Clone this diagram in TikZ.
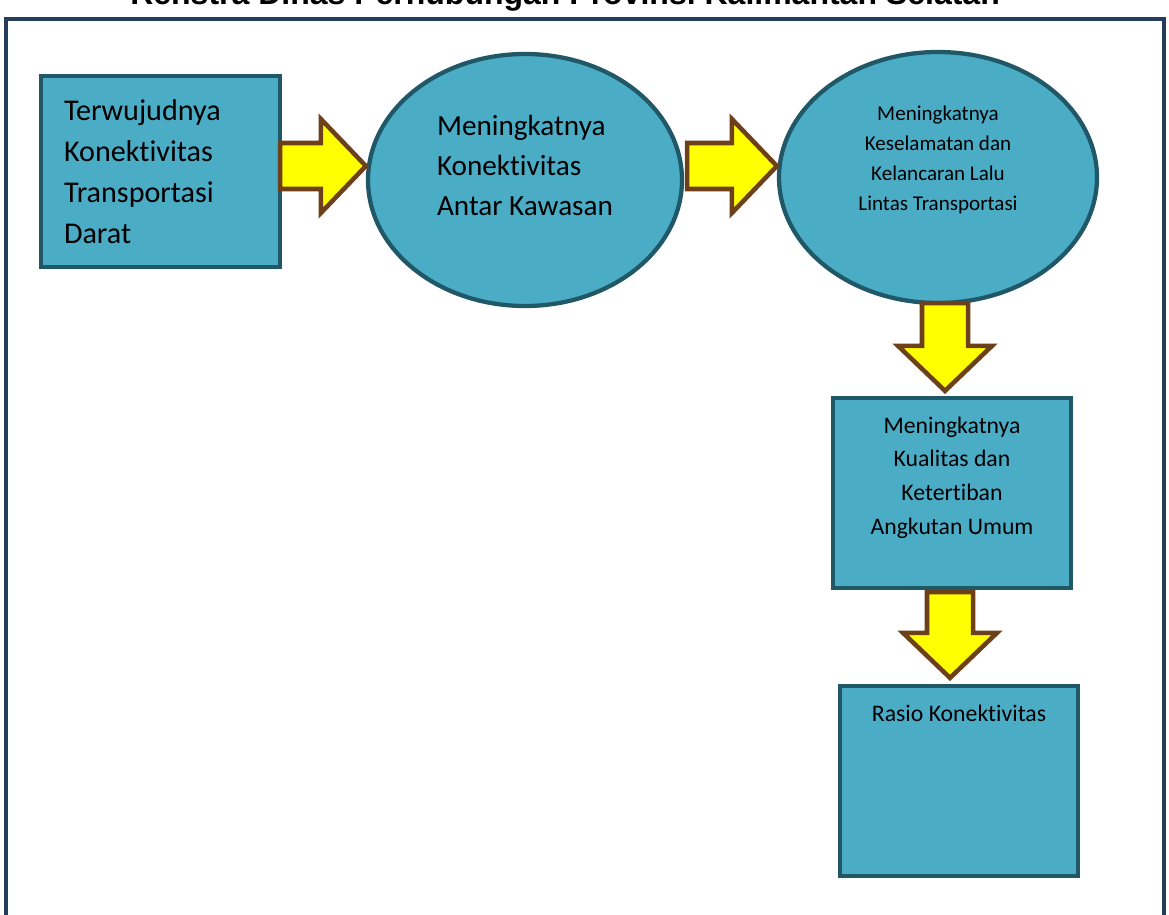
\documentclass[tikz,border=0pt]{standalone}
\usepackage{fontspec}
\setmainfont{Carlito}[Ligatures=NoCommon]
\newfontfamily\headfont{Liberation Sans}
\usetikzlibrary{shapes.geometric,calc}

\definecolor{boxfill}{HTML}{4BACC6}
\definecolor{boxline}{HTML}{215868}
\definecolor{arrowfill}{HTML}{FFFF00}
\definecolor{arrowline}{HTML}{6E4019}
\definecolor{framecol}{HTML}{253D5B}

\tikzset{
  boxnode/.style={draw=boxline, fill=boxfill, line width=3.2pt, rectangle, inner sep=0pt},
  ovalnode/.style={draw=boxline, fill=boxfill, line width=3.2pt, ellipse, inner sep=0pt},
  label text/.style={inner sep=0pt, text=black},
  fatarrow/.style={draw=arrowline, fill=arrowfill, line width=3.4pt, line join=miter},
}

% block arrow from #1 (tail) to #2 (tip)
\newcommand\blockarrow[2]{%
  \coordinate (ba-h) at ($(#2)!33.75pt!(#1)$);
  \draw[fatarrow] ($(#1)!17.25pt!90:(#2)$) -- ($(ba-h)!17.25pt!90:(#2)$)
    -- ($(ba-h)!35.25pt!90:(#2)$) -- (#2) -- ($(ba-h)!35.25pt!-90:(#2)$)
    -- ($(ba-h)!17.25pt!-90:(#2)$) -- ($(#1)!17.25pt!-90:(#2)$) -- cycle;
}

\begin{document}
\begin{tikzpicture}[x=0.75pt, y=-0.75pt]
\clip (0,0) rectangle (1169,914);
\fill[white] (0,0) rectangle (1169,914);

% heading, running off the top of the page
\node[anchor=base west, inner sep=0pt, font=\headfont\bfseries\fontsize{24}{28}\selectfont] (title) at (130,4.5)
  {Renstra Dinas Perhubungan Provinsi Kalimantan Selatan};

% outer frame
\draw[framecol, line width=3pt] (6,19) rectangle (1164,960);

% shapes
\node[boxnode, text width=144.75pt, inner xsep=17.25pt, minimum height=143.25pt, align=left,
      font=\fontsize{22.6}{30.75}\selectfont] (b1) at (160.5,171.5)
  {Terwujudnya\\Konektivitas\\Transportasi\\Darat};

\node[ovalnode, minimum width=235.5pt, minimum height=189pt] (e1) at (525,180) {};
\node[label text, align=left, font=\fontsize{21.9}{30}\selectfont] (e1t) at ($(e1.center)+(0,-15)$)
  {Meningkatnya\\Konektivitas\\Antar Kawasan};

\node[ovalnode, minimum width=238.5pt, minimum height=188.25pt] (e2) at (938,177.5) {};
\node[label text, align=center, font=\fontsize{15.8}{22.5}\selectfont] (e2t) at ($(e2.center)+(0,-18)$)
  {Meningkatnya\\Keselamatan dan\\Kelancaran Lalu\\Lintas Transportasi};

\node[boxnode, minimum width=178.5pt, minimum height=142.5pt] (b2) at (952,493) {};
\node[label text, align=center, font=\fontsize{17.8}{25.3}\selectfont] (b2t) at ($(b2.center)+(0,-15.5)$)
  {Meningkatnya\\Kualitas dan\\Ketertiban\\Angkutan Umum};

\node[boxnode, minimum width=178.5pt, minimum height=142.5pt] (b3) at (959,781) {};
\node[label text, font=\fontsize{17.8}{22}\selectfont] (b3t) at ($(b3.north)+(0,29)$)
  {Rasio Konektivitas};

% connectors
\coordinate (a1s) at ($(b1.east)+(-2,-5.5)$);
\coordinate (a1e) at (e1.west |- a1s);
\coordinate (a2s) at ($(e1.east |- a1s)+(3,0)$);
\coordinate (a2e) at (e2.west |- a1s);
\coordinate (a3s) at ($(e2.south)+(7,-2)$);
\coordinate (a3e) at ($(b2.north)+(-7,-5)$);
\coordinate (a4s) at ($(b2.south)+(-2,2)$);
\coordinate (a4e) at ($(b3.north)+(-9,-6)$);

\blockarrow{a1s}{a1e}
\blockarrow{a2s}{a2e}
\blockarrow{a3s}{a3e}
\blockarrow{a4s}{a4e}
\end{tikzpicture}
\end{document}
